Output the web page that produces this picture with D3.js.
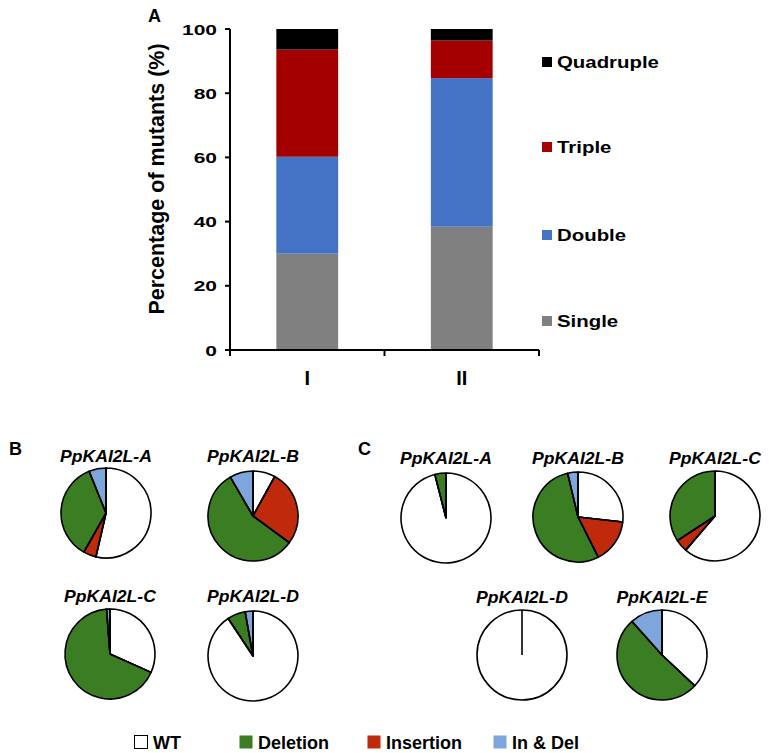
<!DOCTYPE html>
<html><head><meta charset="utf-8">
<script src="https://cdn.jsdelivr.net/npm/d3@7"></script>
<style>
html,body{margin:0;padding:0;background:#fff;}
svg{display:block;font-family:Arial,"Liberation Sans",sans-serif;}
</style></head>
<body>
<svg id="chart" width="769" height="753"></svg>
<script>
// ---------- Data ----------
const barCategories = ["I", "II"];
const barSeries = ["Single", "Double", "Triple", "Quadruple"];
const singleValues = [30.0, 38.4];
const doubleValues = [30.2, 46.3];
const tripleValues = [33.4, 11.7];
const quadrupleValues = [6.4, 3.6];
const yTicks = [0, 20, 40, 60, 80, 100];
const barColors = ["#808080", "#4472C4", "#A50000", "#000000"];

const mutationTypes = ["WT", "Insertion", "Deletion", "In & Del"]; // clockwise order from 12 o'clock
const legendOrder = ["WT", "Deletion", "Insertion", "In & Del"];
const pieColors = {"WT": "#FFFFFF", "Deletion": "#3B7D23", "Insertion": "#BE2A0B", "In & Del": "#7EA6DD"};

const panelBNames = ["PpKAI2L-A", "PpKAI2L-B", "PpKAI2L-C", "PpKAI2L-D"];
const panelBValues = [
  [53.6, 4.6, 35.7, 6.1],
  [8.0, 27.1, 56.5, 8.4],
  [31.7, 0, 67.1, 1.2],
  [90.7, 0, 6.5, 2.8]
];
const panelCNames = ["PpKAI2L-A", "PpKAI2L-B", "PpKAI2L-C", "PpKAI2L-D", "PpKAI2L-E"];
const panelCValues = [
  [96.0, 0, 4.0, 0],
  [26.8, 15.8, 53.7, 3.7],
  [61.3, 4.5, 34.2, 0],
  [100, 0, 0, 0],
  [37.0, 0, 51.4, 11.6]
];

// ---------- Layout ----------
const svg = d3.select("#chart");
const bold = "bold";

// Bar chart
const x = d3.scaleBand().domain(barCategories).range([230, 539]).paddingInner(0.6).paddingOuter(0.3);
const y = d3.scaleLinear().domain([0, 100]).range([350, 29]);

const tableRows = barCategories.map((c, i) => ({
  cat: c, Single: singleValues[i], Double: doubleValues[i], Triple: tripleValues[i], Quadruple: quadrupleValues[i]
}));
const stacked = d3.stack().keys(barSeries)(tableRows);
const color = d3.scaleOrdinal().domain(barSeries).range(barColors);

const gBars = svg.append("g");
stacked.forEach(layer => {
  gBars.selectAll(null).data(layer).enter().append("rect")
    .attr("x", d => x(d.data.cat))
    .attr("width", x.bandwidth())
    .attr("y", d => y(d[1]))
    .attr("height", d => y(d[0]) - y(d[1]))
    .attr("fill", color(layer.key));
});

// Y axis
const yAxis = svg.append("g").attr("transform", "translate(230,0)");
yAxis.append("line").attr("x1", 0).attr("x2", 0).attr("y1", y(0)).attr("y2", y(100))
  .attr("stroke", "#000").attr("stroke-width", 2);
yTicks.forEach(t => {
  yAxis.append("line").attr("x1", -5).attr("x2", 0).attr("y1", y(t)).attr("y2", y(t))
    .attr("stroke", "#000").attr("stroke-width", 2);
  yAxis.append("text").text(t)
    .attr("transform", `translate(-13,${y(t) + 5.5}) scale(1.4,1)`)
    .attr("text-anchor", "end").attr("font-size", 15).attr("font-weight", bold);
});

// X axis
const [xr0, xr1] = x.range();
const gx = svg.append("g");
gx.append("line").attr("x1", xr0 - 1).attr("x2", xr1).attr("y1", y(0)).attr("y2", y(0))
  .attr("stroke", "#000").attr("stroke-width", 2);
const boundaries = [xr0, (x(barCategories[0]) + x.bandwidth() + x(barCategories[1])) / 2, xr1];
boundaries.forEach(b => {
  gx.append("line").attr("x1", b).attr("x2", b).attr("y1", y(0)).attr("y2", y(0) + 6)
    .attr("stroke", "#000").attr("stroke-width", 2);
});
barCategories.forEach(c => {
  gx.append("text").text(c)
    .attr("x", x(c) + x.bandwidth() / 2).attr("y", 385)
    .attr("text-anchor", "middle").attr("font-size", 20).attr("font-weight", bold);
});

// Y label
svg.append("text").text("Percentage of mutants (%)")
  .attr("transform", "translate(164,179) rotate(-90)")
  .attr("text-anchor", "middle").attr("font-size", 21.5).attr("font-weight", bold);

// Panel label A
svg.append("text").text("A").attr("x", 148).attr("y", 22).attr("font-size", 18).attr("font-weight", bold);

// Bar legend
const barLegendY = {"Quadruple": 62, "Triple": 147, "Double": 235, "Single": 321};
barSeries.forEach(s => {
  const ly = barLegendY[s];
  svg.append("rect").attr("x", 542).attr("y", ly - 5).attr("width", 10).attr("height", 10).attr("fill", color(s));
  svg.append("text").text(s)
    .attr("transform", `translate(557,${ly + 6}) scale(1.2,1)`)
    .attr("font-size", 17).attr("font-weight", bold);
});

// ---------- Pies ----------
const R = 45;
const pie = d3.pie().sort(null).value(d => d.v);
const arc = d3.arc().innerRadius(0).outerRadius(R);

function drawPie(cx, cy, values, title, titleY) {
  const g = svg.append("g").attr("transform", `translate(${cx},${cy})`);
  const data = mutationTypes.map((t, i) => ({t, v: values[i]}));
  const arcs = pie(data).filter(d => d.data.v > 0);
  g.selectAll("path").data(arcs).enter().append("path")
    .attr("d", arc)
    .attr("fill", d => pieColors[d.data.t])
    .attr("stroke", "#000").attr("stroke-width", 1.6).attr("stroke-linejoin", "round");
  // radial boundary lines
  arcs.forEach(d => {
    g.append("line").attr("x1", 0).attr("y1", 0)
      .attr("x2", R * Math.sin(d.startAngle)).attr("y2", -R * Math.cos(d.startAngle))
      .attr("stroke", "#000").attr("stroke-width", 1.6);
  });
  svg.append("text").text(title)
    .attr("transform", `translate(${cx},${titleY}) scale(1.1,1)`)
    .attr("text-anchor", "middle").attr("font-size", 16)
    .attr("font-weight", bold).attr("font-style", "italic");
}

// Panel B
const bPos = [[106, 513, 462], [253, 516, 462], [110, 654, 602], [253, 656, 602]];
panelBNames.forEach((n, i) => drawPie(bPos[i][0], bPos[i][1], panelBValues[i], n, bPos[i][2]));
// Panel C
const cPos = [[446, 518, 464], [578, 517, 464], [715, 516, 464], [522, 655, 603], [662, 655, 603]];
panelCNames.forEach((n, i) => drawPie(cPos[i][0], cPos[i][1], panelCValues[i], n, cPos[i][2]));

svg.append("text").text("B").attr("x", 9).attr("y", 455).attr("font-size", 18).attr("font-weight", bold);
svg.append("text").text("C").attr("x", 358).attr("y", 455).attr("font-size", 18).attr("font-weight", bold);

// Bottom legend
const legendX = {"WT": 134, "Deletion": 239, "Insertion": 367, "In & Del": 493};
legendOrder.forEach(t => {
  const lx = legendX[t];
  svg.append("rect").attr("x", lx + 0.5).attr("y", 735.5).attr("width", 13).attr("height", 13)
    .attr("fill", pieColors[t]).attr("stroke", t === "WT" ? "#000" : "none").attr("stroke-width", 1);
  svg.append("text").text(t).attr("x", lx + 19).attr("y", 749)
    .attr("font-size", 18).attr("font-weight", bold);
});
</script>
</body></html>
